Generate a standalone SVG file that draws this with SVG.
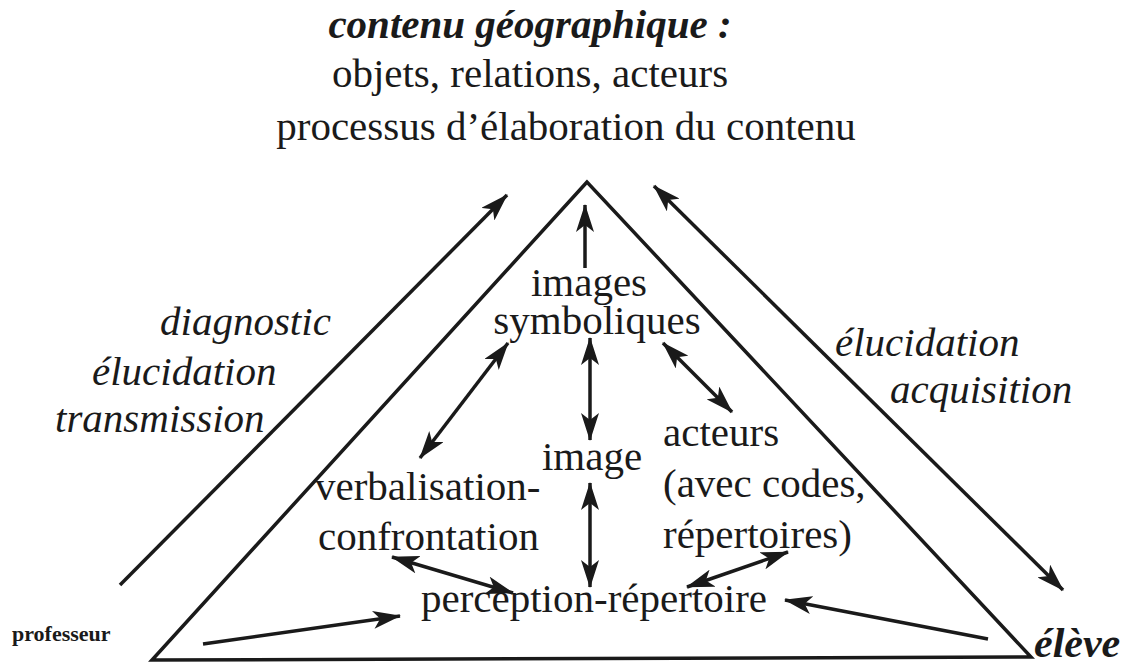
<svg xmlns="http://www.w3.org/2000/svg" width="1136" height="667" viewBox="0 0 1136 667">
<style>
.t{font-family:"Liberation Serif","Times New Roman",serif;fill:#1a1a1a;font-size:41px}
.i{font-style:italic}
.b{font-weight:bold}
.c{text-anchor:middle}
.ln{stroke:#1a1a1a;stroke-width:3.5;fill:none}
</style>
<defs>
<marker id="ah" viewBox="0 0 28 18" refX="27" refY="9" markerWidth="28" markerHeight="18" markerUnits="userSpaceOnUse" orient="auto-start-reverse">
<path d="M0,0 L28,9 L0,18 L7,9 z" fill="#1a1a1a"/>
</marker>
</defs>
<rect width="1136" height="667" fill="#fff"/>
<g id="triangle">
<path class="ln" d="M587,182 L152,660 L1031,657 Z" stroke-linejoin="miter"/>
</g>
<g id="title">
<text class="t i b c" x="530" y="38">contenu géographique :</text>
<text class="t c" x="530" y="87">objets, relations, acteurs</text>
<text class="t c" x="566" y="140">processus d’élaboration du contenu</text>
</g>
<g id="images-symboliques">
<text class="t c" x="589" y="296">images</text>
<text class="t c" x="597" y="334">symboliques</text>
</g>
<g id="image">
<text class="t c" x="592" y="470">image</text>
</g>
<g id="verbalisation">
<text class="t" x="315" y="500">verbalisation-</text>
<text class="t" x="318" y="550">confrontation</text>
</g>
<g id="acteurs">
<text class="t" x="663" y="446">acteurs</text>
<text class="t" x="663" y="497">(avec codes,</text>
<text class="t" x="663" y="548">répertoires)</text>
</g>
<g id="perception">
<text class="t c" x="594" y="612">perception-répertoire</text>
</g>
<g id="left-label">
<text class="t i" x="160" y="335">diagnostic</text>
<text class="t i" x="92" y="385">élucidation</text>
<text class="t i" x="55" y="432">transmission</text>
</g>
<g id="right-label">
<text class="t i" x="835" y="356">élucidation</text>
<text class="t i" x="890" y="403">acquisition</text>
</g>
<g id="professeur">
<text class="t b" x="12" y="641" style="font-size:22px">professeur</text>
</g>
<g id="eleve">
<text class="t i b" x="1034" y="657" style="font-size:42px">élève</text>
</g>
<g id="connectors">
<line class="ln" x1="120" y1="585" x2="507" y2="195" marker-end="url(#ah)"/>
<line class="ln" x1="654" y1="186" x2="1063" y2="590" marker-start="url(#ah)" marker-end="url(#ah)"/>
<line class="ln" x1="203" y1="644" x2="400" y2="616" marker-end="url(#ah)"/>
<line class="ln" x1="988" y1="639" x2="785" y2="600" marker-end="url(#ah)"/>
<line class="ln" x1="585" y1="268" x2="585" y2="205" marker-end="url(#ah)"/>
<line class="ln" x1="508" y1="343" x2="420" y2="458" marker-start="url(#ah)" marker-end="url(#ah)"/>
<line class="ln" x1="590" y1="338" x2="590" y2="440" marker-start="url(#ah)" marker-end="url(#ah)"/>
<line class="ln" x1="663" y1="343" x2="732" y2="412" marker-start="url(#ah)" marker-end="url(#ah)"/>
<line class="ln" x1="590" y1="483" x2="590" y2="587" marker-start="url(#ah)" marker-end="url(#ah)"/>
<line class="ln" x1="392" y1="557" x2="513" y2="593" marker-start="url(#ah)" marker-end="url(#ah)"/>
<line class="ln" x1="687" y1="587" x2="788" y2="552" marker-start="url(#ah)" marker-end="url(#ah)"/>
</g>
</svg>
